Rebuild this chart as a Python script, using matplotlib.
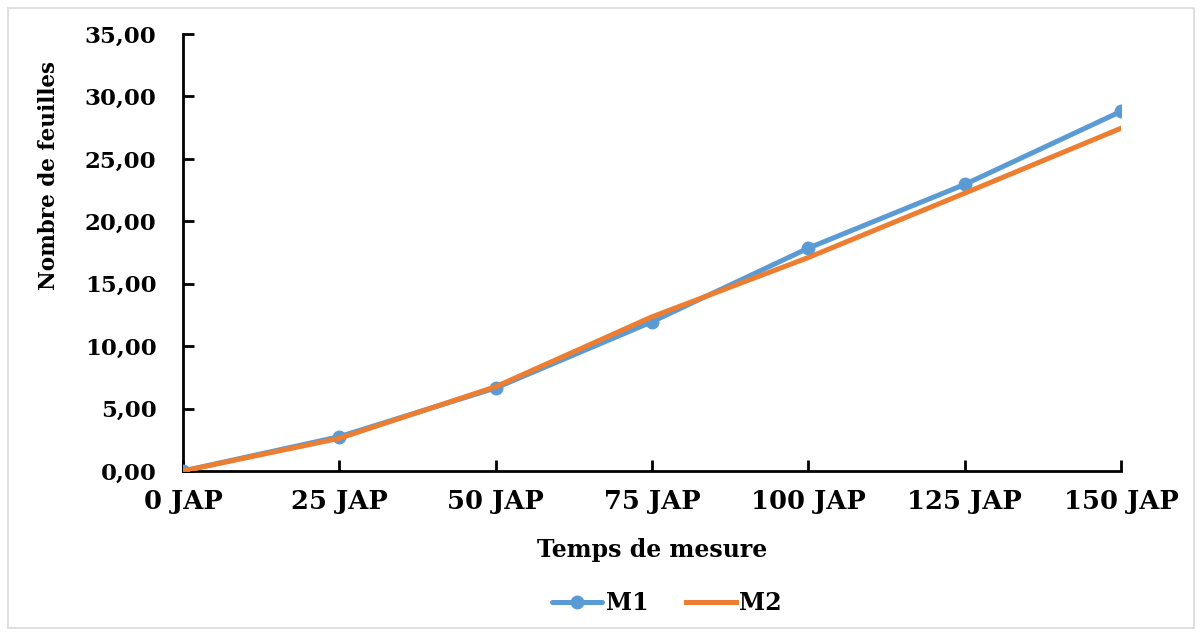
import matplotlib.pyplot as plt
from matplotlib.patches import Rectangle

# Nombre de feuilles par date de mesure
temps = ["0 JAP", "25 JAP", "50 JAP", "75 JAP", "100 JAP", "125 JAP", "150 JAP"]
m1 = [0.00, 2.75, 6.65, 11.95, 17.85, 22.95, 28.80]
m2 = [0.00, 2.62, 6.75, 12.35, 17.10, 22.25, 27.45]

bleu = "#5B9BD5"
orange = "#ED7D31"
police = "DejaVu Serif"

fig = plt.figure(figsize=(12.02, 6.33), dpi=100)
ax = fig.add_axes([183 / 1202, 162 / 633, 938 / 1202, 437 / 633])

x = list(range(len(temps)))
ax.plot(x, m1, color=bleu, lw=3.6, marker="o", ms=9, label="M1",
        solid_capstyle="round", zorder=3)
ax.plot(x, m2, color=orange, lw=3.6, label="M2", zorder=4)

ax.set_xlim(0, len(temps) - 1)
ax.set_ylim(0, 35)
ax.set_xticks(x)
ax.set_xticklabels(temps)
ax.set_yticks(range(0, 36, 5))
ax.set_yticklabels([f"{v:.2f}".replace(".", ",") for v in range(0, 36, 5)])

for lab in ax.get_xticklabels():
    lab.set_fontfamily(police)
    lab.set_fontweight("bold")
    lab.set_fontsize(18.5)
for lab in ax.get_yticklabels():
    lab.set_fontfamily(police)
    lab.set_fontweight("bold")
    lab.set_fontsize(16.5)

ax.tick_params(axis="both", direction="in", length=8, width=2, color="black")
ax.tick_params(axis="y", pad=19)
ax.tick_params(axis="x", pad=13)

for s in ["top", "right"]:
    ax.spines[s].set_visible(False)
for s in ["left", "bottom"]:
    ax.spines[s].set_linewidth(2)
    ax.spines[s].set_color("black")

ax.set_ylabel("Nombre de feuilles", fontfamily=police, fontweight="bold",
              fontsize=15.5)
ax.yaxis.set_label_coords(-0.131, 0.677)
ax.set_xlabel("Temps de mesure", fontfamily=police, fontweight="bold",
              fontsize=17, labelpad=17)

leg = fig.legend(loc="center", bbox_to_anchor=(0.555, 0.047), ncol=2,
                 frameon=False, handlelength=2.1, columnspacing=1.6,
                 handletextpad=0.15,
                 prop={"family": police, "weight": "bold", "size": 17})

# cadre gris clair autour du graphique
fig.patches.append(Rectangle((8 / 1202, 5 / 633), 1186 / 1202, 620 / 633,
                             transform=fig.transFigure, fill=False,
                             edgecolor="#D9D9D9", lw=1.2))

fig.savefig("out.png", dpi=100)
